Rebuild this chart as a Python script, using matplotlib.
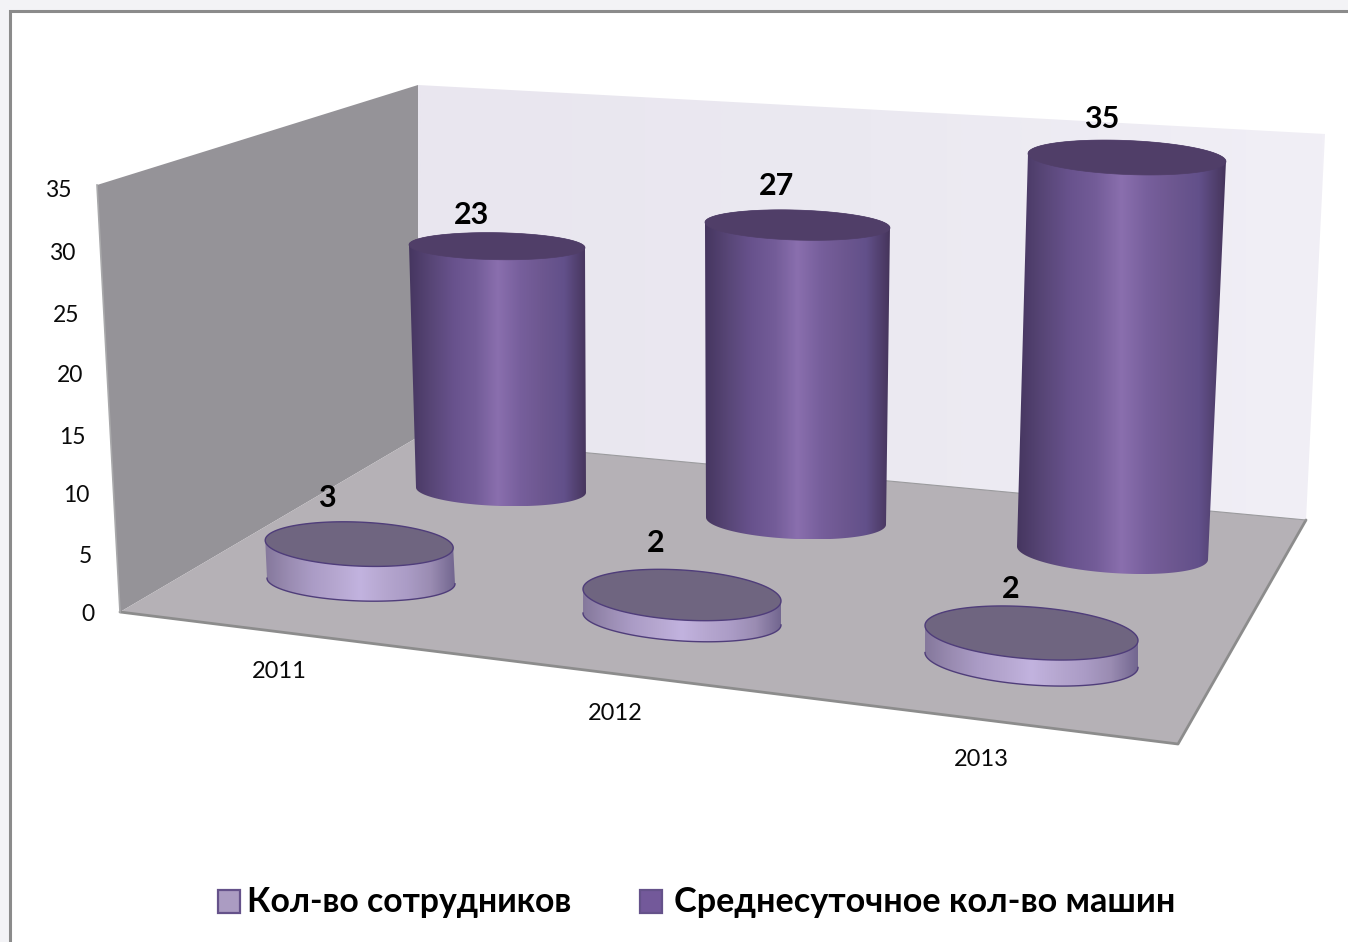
import numpy as np
import matplotlib
matplotlib.use("Agg")
import matplotlib.pyplot as plt
from matplotlib.patches import Polygon, Rectangle
from matplotlib.colors import LinearSegmentedColormap

plt.rcParams['font.family'] = ['Lato', 'Noto Sans', 'DejaVu Sans']

categories = ['2011', '2012', '2013']
staff = [3, 2, 2]
cars = [23, 27, 35]
series_names = ['Кол-во сотрудников', 'Среднесуточное кол-во машин']
y_ticks = [0, 5, 10, 15, 20, 25, 30, 35]

# layout of the 3D scene, in pixels
ytick_pos = [(95, 612), (92, 554), (89.5, 493), (86, 435), (83, 373), (79, 313), (75, 251), (72, 188)]
cat_pos = [(279, 669), (615, 711), (981, 757)]
# base cx, cy, rx, ry, tilt, unit height, unit dx, top rx, top ry, top tilt, label dx, label dy
car_geo = [
    (501, 490, 85, 16, 0.03, 10.6, -0.174, 88, 13.5, 0.017, -25, -34),
    (796, 521, 90, 18, 0.04, 10.96, 0.055, 92.5, 15, 0.03, -21, -42),
    (1112.5, 553, 95.5, 20, 0.068, 11.3, 0.414, 99, 17, 0.04, -25, -41),
]
staff_geo = [
    (361, 581, 94, 20, 0.03, 12.3, -0.6, 94, 22, 0.04, -32, -49),
    (682, 619, 99, 22, 0.06, 12.0, 0.0, 99, 25, 0.06, -26, -54),
    (1031.5, 660, 106.5, 25, 0.07, 13.5, 0.0, 106.5, 26, 0.07, -21, -47),
]

fig = plt.figure(figsize=(13.48, 9.42), dpi=100, facecolor='white')
ax = fig.add_axes([0, 0, 1, 1])
ax.axis('off')


def reset():
    ax.set_xlim(0, 1348)
    ax.set_ylim(942, 0)
    ax.set_aspect('auto')


def grad_fill(poly, colors, vertical=False, zorder=2):
    pts = np.array(poly)
    x0, x1, y0, y1 = pts[:, 0].min(), pts[:, 0].max(), pts[:, 1].min(), pts[:, 1].max()
    cmap = LinearSegmentedColormap.from_list('g', colors)
    g = np.linspace(0, 1, 400)
    arr = g[:, None] if vertical else g[None, :]
    im = ax.imshow(arr, cmap=cmap, extent=(x0, x1, y1, y0), origin='upper',
                   aspect='auto', zorder=zorder, interpolation='bilinear')
    clip = Polygon(pts, closed=True, transform=ax.transData, fc='none', ec='none')
    ax.add_patch(clip)
    im.set_clip_path(clip)
    reset()


def ell(cx, cy, rx, ry, tilt, t):
    return np.c_[cx + rx * np.cos(t), cy + ry * np.sin(t) + tilt * rx * np.cos(t)]


def cylinder(value, geo, side, cap, edge, lw, z):
    cx, cy, rx, ry, tilt, unit, dx, trx, tr_y, ttilt, ldx, ldy = geo
    tx = cx + value * dx
    ty = cy - value * unit
    low = ell(cx, cy, rx, ry, tilt, np.linspace(np.pi, 0, 80))
    up = ell(tx, ty, trx, tr_y, ttilt, np.linspace(0, -np.pi, 80))
    body = np.vstack([low, up])
    grad_fill(body, side, zorder=z)
    top = ell(tx, ty, trx, tr_y, ttilt, np.linspace(0, 2 * np.pi, 160))
    if lw:
        ax.plot(*low.T, color=edge, lw=lw, zorder=z + 0.1)
    ax.add_patch(Polygon(top, closed=True, fc=cap, ec=edge if lw else cap, lw=lw if lw else 0.5, zorder=z + 0.2))
    ax.text(tx + ldx, ty + ldy + 2.5, str(value), ha='center', va='center', fontsize=22,
            fontweight='bold', color='black', zorder=z + 0.3)


# page and frame
ax.add_patch(Rectangle((0, 0), 1348, 942, fc='#f3f3f6', ec='none', zorder=0))
ax.add_patch(Rectangle((10, 11), 1340, 935, fc='white', ec='#8b8b8b', lw=2.2, zorder=0.5))

# walls and floor
ax.add_patch(Polygon([(97, 185), (418, 85), (418, 437), (120, 612)], closed=True, fc='#959398', ec='none', zorder=2))
grad_fill([(418, 85), (1325, 134), (1306, 520), (418, 437)], ['#e9e6ef', '#ebe9f1', '#f1eff6'])
floor = [(120, 612), (418, 437), (1306, 520), (1178, 744)]
ax.add_patch(Polygon(floor, closed=True, fc='#b5b1b6', ec='none', zorder=3))
ax.plot([120, 1178, 1306], [612, 744, 520], color='#8c8c8c', lw=2, zorder=3.1, solid_capstyle='round')
ax.plot([418, 1306], [437, 520], color='#9b9b9e', lw=0.8, zorder=3.1)
ax.plot([97, 120], [185, 612], color='#a9a9ab', lw=1.2, zorder=3.1)

side_dark = ['#463660', '#584677', '#68528d', '#735c98', '#8a6fae', '#775f9c', '#6d5790', '#62508a', '#46355c']
side_light = ['#85789c', '#9a8cb2', '#ab9cc6', '#b6a7d0', '#c2b3df', '#b6a7d0', '#ab9cc6', '#9a8cb2', '#736790']

for v, g in zip(cars, car_geo):
    cylinder(v, g, side_dark, '#503e68', '#503e68', 0, 4)
for i, (v, g) in enumerate(zip(staff, staff_geo)):
    cylinder(v, g, side_light, '#6f6580', '#4f3d7a', 1.0, 5 + i)

# axis labels
for t, (x, y) in zip(y_ticks, ytick_pos):
    ax.text(x, y + 2.5, str(t), ha='right', va='center', fontsize=16.5, color='#0a0a0a', zorder=8)
for c, (x, y) in zip(categories, cat_pos):
    ax.text(x, y + 2, c, ha='center', va='center', fontsize=17, color='#0a0a0a', zorder=8)

# legend
for name, sx, tx, fc, fs in zip(series_names, (218, 640), (247, 674), ('#ab9cc2', '#73599a'), (24.3, 24.6)):
    ax.add_patch(Rectangle((sx, 890), 22, 23, fc=fc, ec='#65528a', lw=1.6, zorder=8))
    ax.text(tx, 902.5, name, ha='left', va='center', fontsize=fs, fontweight='bold', color='black', zorder=8)

reset()
fig.savefig('out.png', dpi=100, facecolor='white')
